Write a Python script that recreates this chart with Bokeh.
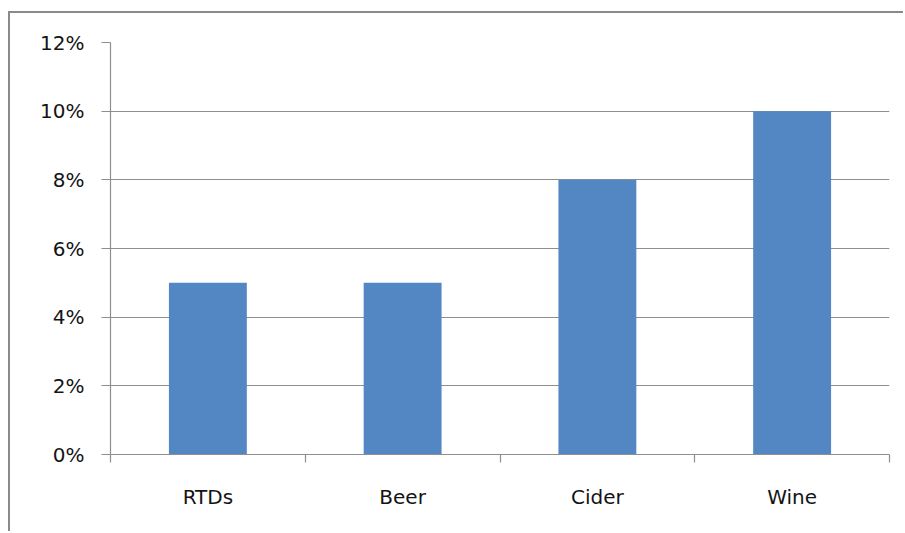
from bokeh.plotting import figure
from bokeh.models import Range1d, FixedTicker, NumeralTickFormatter
from bokeh.embed import file_html
from bokeh.resources import INLINE

categories = ["RTDs", "Beer", "Cider", "Wine"]
values = [0.05, 0.05, 0.08, 0.10]
y_ticks = [0.0, 0.02, 0.04, 0.06, 0.08, 0.10, 0.12]

n = len(categories)
x_pos = [i + 0.5 for i in range(n)]

p = figure(width=895, height=520, output_backend="svg", toolbar_location=None,
           x_range=Range1d(0, n), y_range=Range1d(0, 0.12),
           min_border_left=100, min_border_right=16, min_border_top=29, min_border_bottom=79)
p.styles = {"margin-left": "8px", "margin-top": "11px",
            "border-left": "2px solid #8a8a8a", "border-top": "2px solid #8a8a8a"}
p.outline_line_color = None
p.background_fill_color = "white"
p.border_fill_color = "white"

p.vbar(x=x_pos, top=values, width=0.4, bottom=0, fill_color="#5387c3", line_color=None)

line_col = "#8e8e8e"
text_col = "#141414"
font = "DejaVu Sans"
fsize = "20px"

p.xgrid.visible = False
p.ygrid.ticker = FixedTicker(ticks=y_ticks)
p.ygrid.grid_line_color = line_col
p.ygrid.grid_line_width = 1.2

ya = p.yaxis[0]
ya.ticker = FixedTicker(ticks=y_ticks)
ya.formatter = NumeralTickFormatter(format="0%")
ya.axis_line_color = line_col
ya.axis_line_width = 1.2
ya.major_tick_line_color = line_col
ya.major_tick_line_width = 1.2
ya.major_tick_in = 0
ya.major_tick_out = 9
ya.minor_tick_line_color = None
ya.major_label_standoff = 17
ya.major_label_text_font = font
ya.major_label_text_font_size = fsize
ya.major_label_text_color = text_col

xa = p.xaxis[0]
xa.ticker = FixedTicker(ticks=x_pos, minor_ticks=list(range(n + 1)))
xa.major_label_overrides = {x: c for x, c in zip(x_pos, categories)}
xa.axis_line_color = line_col
xa.axis_line_width = 1.2
xa.major_tick_line_color = None
xa.major_tick_in = 0
xa.major_tick_out = 0
xa.minor_tick_line_color = line_col
xa.minor_tick_line_width = 1.2
xa.minor_tick_in = 0
xa.minor_tick_out = 8
xa.major_label_standoff = 22
xa.major_label_text_font = font
xa.major_label_text_font_size = fsize
xa.major_label_text_color = text_col

open("out.html", "w").write(file_html(p, INLINE))
